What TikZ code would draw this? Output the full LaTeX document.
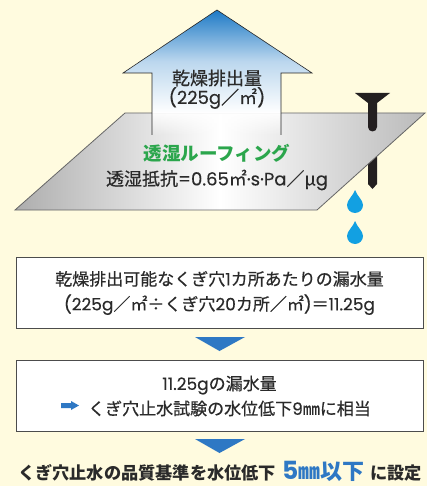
\documentclass[tikz,border=0pt]{standalone}
\usepackage{fontspec}
\setmainfont{Noto Sans CJK JP}[UprightFeatures={FakeBold=0.5}]
\newfontfamily\latfont{Poppins}[UprightFeatures={FakeBold=0.3}]
\newcommand\lat[1]{{\latfont #1}}
\usetikzlibrary{positioning,fadings}

\definecolor{paper}{HTML}{FFFBDF}
\definecolor{inkgray}{HTML}{2A2A2A}
\definecolor{arrowblue}{HTML}{1E7AC6}
\definecolor{markblue}{HTML}{2E78C4}
\definecolor{roofgreen}{HTML}{2BA64C}
\definecolor{dropblue}{HTML}{12A0E2}
\definecolor{nailblack}{HTML}{231F20}
\tikzfading[name=fadedown, top color=transparent!0, bottom color=transparent!100]

\begin{document}
\begin{tikzpicture}[x=1pt,y=-1pt,
    txt/.style={text=inkgray,inner sep=0pt,font=\fontsize{18}{20}\selectfont},
    infobox/.style={draw=black!70,line width=0.8pt,fill=white,minimum width=407pt,
      minimum height=71pt,align=center,text=inkgray,font=\fontsize{17}{25}\selectfont},
    flowmark/.style={fill=markblue}]
  % background
  \fill[paper] (0,0) rectangle (427,486);
  \useasboundingbox (0,0) rectangle (427,486);

  % nail point below the sheet
  \fill[nailblack] (368,148) -- (377,148) -- (377,184) -- (372.5,189) -- (368,184) -- cycle;

  % roofing sheet
  \shade[left color=black!32,right color=black!27,middle color=white,
    draw=black!60,line width=0.8pt] (125,113) -- (425,113) -- (317,210) -- (15,210) -- cycle;

  % vapour arrow
  \shade[top color=arrowblue,bottom color=white,middle color=arrowblue!30]
    (217,10) -- (312,73) -- (281,73) -- (281,113) -- (152,113) -- (152,73) -- (123,73) -- cycle;
  \fill[white,path fading=fadedown,fill opacity=0.9] (152,113) rectangle (281,135);
  \draw[black!85,line width=0.6pt]
    (152,135) -- (152,73) -- (123,73) -- (217,10) -- (312,73) -- (281,73) -- (281,135);

  % nail head
  \fill[nailblack] (355,93) -- (390,93) -- (377,103) -- (377,127)
    arc[start angle=0,end angle=180,radius=4.5] -- (368,103) -- cycle;

  % drops
  \foreach \cy in {205,236}
    \fill[dropblue] (355,\cy-15) .. controls (357,\cy-9) and (363,\cy-5) .. (363,\cy)
      arc[start angle=0,end angle=180,radius=8]
      .. controls (347,\cy-5) and (353,\cy-9) .. cycle;

  \node[txt] (flux) at (217,78) {乾燥排出量};
  \node[txt] (fluxval) at (217,98) {\lat{(225g}／㎡\lat{)}};
  \node[txt,text=roofgreen,font=\fontsize{18.5}{20}\selectfont\bfseries] (roof) at (217,153) {透湿ルーフィング};
  \node[txt] (resist) at (217,180) {透湿抵抗\lat{=0.65}㎡\lat{·s·Pa}／μ\lat{g}};

  % calculation boxes
  \node[infobox] (leak) at (219.5,293)
    {乾燥排出可能なくぎ穴\lat{1}カ所あたりの漏水量\\\lat{(225g}／㎡÷くぎ穴\lat{20}カ所／㎡\lat{)}＝\lat{11.25g}};
  \node[infobox] (level) at (219.5,396)
    {\lat{11.25g}の漏水量\\\hspace*{20pt}くぎ穴止水試験の水位低下\lat{9}㎜に相当};
  \fill[markblue] (61,403) -- (71,403) -- (71,401) -- (79,405.5) -- (71,410) -- (71,408) -- (61,408) -- cycle;

  \foreach \y in {337,439}
    \fill[flowmark] (195,\y) -- (245,\y) -- (219.5,\y+14) -- cycle;

  \node[txt,font=\fontsize{17.2}{20}\selectfont\bfseries,anchor=base] (rule) at (220,479)
    {くぎ穴止水の品質基準を水位低下\hspace{6pt}\smash{\color{markblue}{\fontsize{25}{25}\selectfont\latfont\bfseries 5}{\fontsize{22}{25}\selectfont ㎜以下}}\hspace{6pt}に設定};
\end{tikzpicture}
\end{document}
